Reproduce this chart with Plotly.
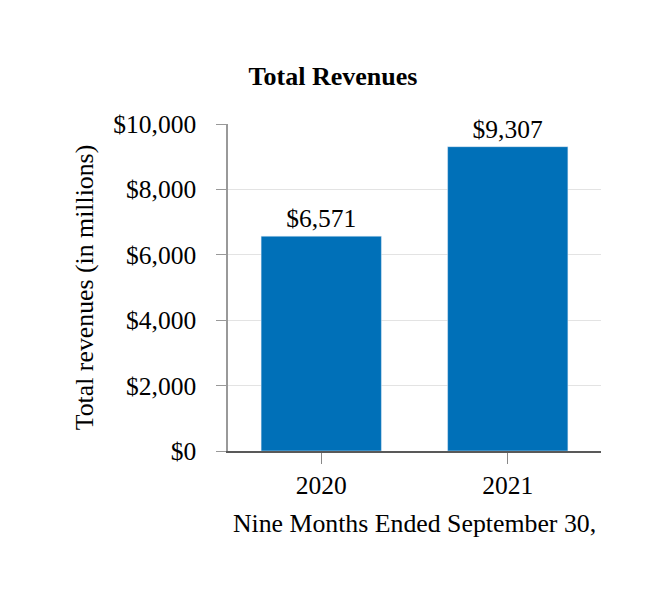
import plotly.graph_objects as go

# Total revenues, nine months ended September 30 (in millions)
years = ['2020', '2021']
revenues = [6571, 9307]
labels = ['$6,571', '$9,307']

tick_vals = [0, 2000, 4000, 6000, 8000, 10000]
tick_text = ['$0', '$2,000', '$4,000', '$6,000', '$8,000', '$10,000']

font = 'Liberation Serif'

fig = go.Figure(data=[go.Bar(
    x=years, y=revenues,
    text=labels, textposition='outside',
    textfont=dict(family=font, size=25.5, color='black'),
    marker_color='#0070b8', width=0.645,
    cliponaxis=False,
)])

# page body adds an 8px offset, margins below allow for it
fig.update_layout(
    width=666, height=600,
    margin=dict(l=220, r=73, t=116, b=157),
    paper_bgcolor='white', plot_bgcolor='white',
    font=dict(family=font, size=25.5, color='black'),
    title=dict(text='<b>Total Revenues</b>', x=(333 - 8) / 666, xanchor='center',
               y=1 - (76 - 8) / 600, yanchor='middle',
               font=dict(family=font, size=26, color='black')),
    showlegend=False,
)
fig.update_xaxes(
    showline=True, linecolor='#595959', linewidth=1.5,
    ticks='outside', ticklen=11, tickcolor='#888888',
    tickfont=dict(family=font, size=25.5, color='black'),
    title=dict(text='Nine Months Ended September 30,', standoff=15,
               font=dict(family=font, size=25.8, color='black')),
)
fig.update_yaxes(
    range=[0, 10000], tickvals=tick_vals, ticktext=tick_text,
    showline=True, linecolor='#999999', linewidth=1.5,
    ticks='outside', ticklen=10, tickcolor='#999999',
    ticklabelstandoff=15,
    tickfont=dict(family=font, size=25.5, color='black'),
    gridcolor='#e3e3e3', zeroline=False,
    title=dict(text='Total revenues (in millions)', standoff=12,
               font=dict(family=font, size=25.8, color='black')),
)

fig.write_html('out.html')
